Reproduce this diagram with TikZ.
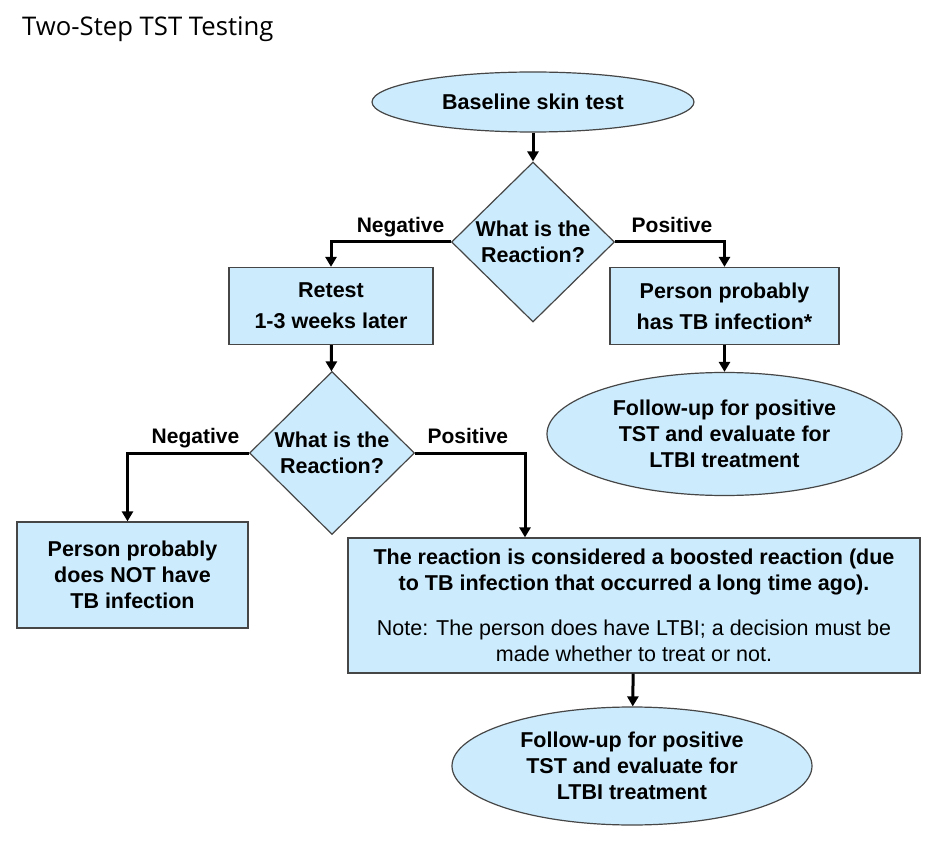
\documentclass[tikz,border=0pt]{standalone}
\usepackage{fontspec}
\setmainfont{Liberation Sans}
\newfontfamily\titlefont{Open Sans}
\usetikzlibrary{shapes.geometric, arrows.meta}
\definecolor{boxblue}{RGB}{204,235,252}
\definecolor{edgegray}{RGB}{70,70,70}

\begin{document}
\begin{tikzpicture}[x=1pt, y=-1pt,
  box/.style={draw=edgegray, line width=1.2pt, fill=boxblue, rectangle, inner sep=0pt, align=center, font=\fontsize{21.5}{26}\selectfont\bfseries},
  oval/.style={box, ellipse},
  question/.style={box, diamond},
  flow/.style={line width=3pt, -{Triangle[width=11pt, length=10pt]}},
  answer/.style={font=\fontsize{21}{26}\selectfont\bfseries, anchor=base, inner sep=0pt, yshift=9.5pt}]
  \path[fill=white] (0,0) rectangle (946,845);
  \useasboundingbox (0,0) rectangle (946,845);
  \node[anchor=base west, inner sep=0pt] (title) at (22,36) {\titlefont\fontsize{25.7}{30}\selectfont Two-Step TST Testing};
  \node[oval, minimum width=322, minimum height=60] (baseline) at (533,102) {Baseline skin test};
  \node[question, minimum width=163, minimum height=160] (reactionTop) at (533,242) {What is the\\Reaction?};
  \node[box, minimum width=204, minimum height=77] (retest) at (331,306) {Retest\\[5pt]1-3 weeks later};
  \node[box, minimum width=229, minimum height=77] (hasInfection) at (724.5,306) {Person probably\\[5pt]has TB infection*};
  \node[oval, minimum width=355, minimum height=123] (followTop) at (724.5,434) {Follow-up for positive\\TST and evaluate for\\LTBI treatment};
  \node[question, minimum width=165, minimum height=163] (reactionBottom) at (332,453) {What is the\\Reaction?};
  \node[box, minimum width=231, minimum height=106] (noInfection) at (132.5,575) {Person probably\\does NOT have\\TB infection};
  \node[box, minimum width=572, minimum height=135] (boosted) at (634,605.5) {The reaction is considered a boosted reaction (due\\to TB infection that occurred a long time ago).\\[19pt]\mdseries Note: The person does have LTBI; a decision must be\\\mdseries made whether to treat or not.};
  \node[oval, minimum width=360, minimum height=118] (followBottom) at (632,766) {Follow-up for positive\\TST and evaluate for\\LTBI treatment};

  \draw[flow] (baseline) -- (reactionTop);
  \draw[flow] (reactionTop.west) -| (retest.north) node[answer, pos=0.21] {Negative};
  \draw[flow] (reactionTop.east) -| (hasInfection.north) node[answer, pos=0.26] {Positive};
  \draw[flow] (retest) -- (reactionBottom);
  \draw[flow] (hasInfection) -- (followTop);
  \draw[flow] (reactionBottom.west) -| ([xshift=-5pt]noInfection.north) node[answer, pos=0.22] {Negative};
  \draw[flow] (reactionBottom.east) -| ([xshift=-109pt]boosted.north) node[answer, pos=0.24] {Positive};
  \draw[flow] (boosted) -- (followBottom);
\end{tikzpicture}
\end{document}
